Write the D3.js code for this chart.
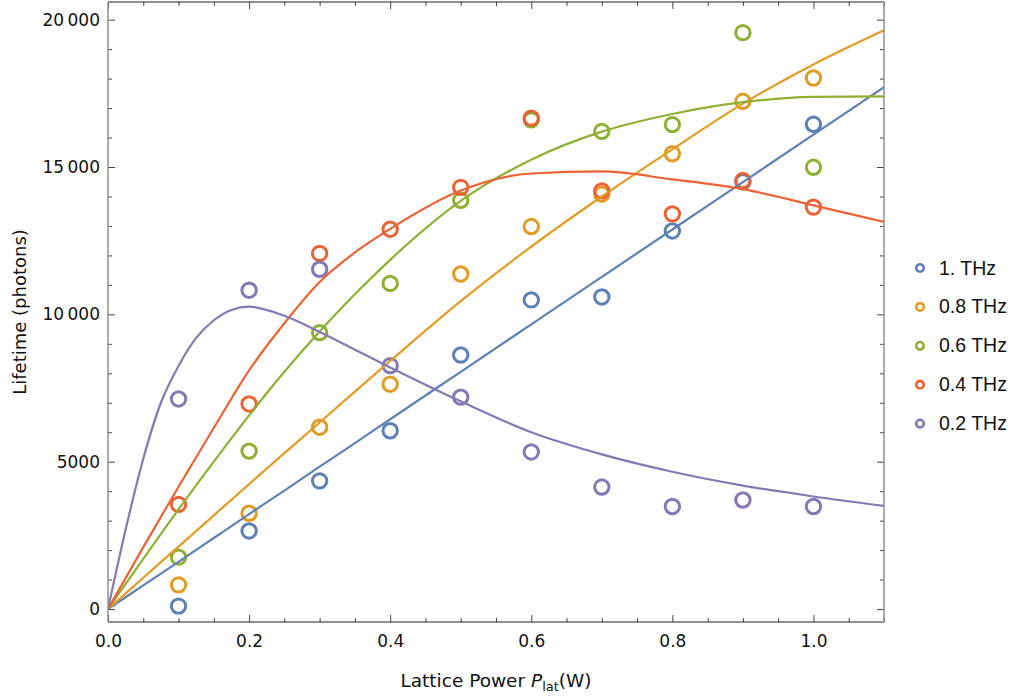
<!DOCTYPE html>
<html>
<head>
<meta charset="utf-8">
<script src="https://cdn.jsdelivr.net/npm/d3@7"></script>
<style>
  body { margin: 0; background: #fff; }
  text { font-family: "DejaVu Sans", sans-serif; fill: #111; }
  .legend text { font-family: "Liberation Sans", Arial, sans-serif; }
</style>
</head>
<body>
<div id="chart"></div>
<script>
// measured points (lattice power in W)
const power = [0.1, 0.2, 0.3, 0.4, 0.5, 0.6, 0.7, 0.8, 0.9, 1.0];
const life1THz  = [100, 2650, 4350, 6050, 8620, 10490, 10590, 12830, 14500, 16450];
const life08THz = [820, 3250, 6170, 7630, 11370, 12980, 14080, 15450, 17230, 18020];
const life06THz = [1760, 5360, 9380, 11050, 13870, 16600, 16210, 16440, 19560, 14990];
const life04THz = [3550, 6960, 12070, 12890, 14310, 16660, 14190, 13410, 14540, 13640];
const life02THz = [7130, 10820, 11530, 8260, 7190, 5330, 4140, 3480, 3700, 3480];

// fitted curves
const fitPower = [0, 0.05, 0.1, 0.15, 0.2, 0.25, 0.3, 0.35, 0.4, 0.5, 0.6, 0.7, 0.8, 0.9, 1.0, 1.1];
const fit1THz  = [0, 800, 1600, 2410, 3220, 4020, 4830, 5630, 6440, 8050, 9660, 11270, 12880, 14490, 16100, 17710];
const fit08THz = [0, 1060, 2120, 3180, 4240, 5290, 6330, 7380, 8420, 10450, 12300, 14000, 15600, 17150, 18480, 19640];
const fit06THz = [0, 1700, 3380, 5000, 6570, 8050, 9420, 10680, 11850, 13850, 15250, 16200, 16800, 17200, 17380, 17400];
const fit04THz = [0, 2100, 4150, 6150, 8100, 9700, 11100, 12100, 12900, 14200, 14780, 14850, 14580, 14250, 13700, 13140];
const fitPower02 = [0, 0.025, 0.05, 0.075, 0.1, 0.125, 0.15, 0.175, 0.2, 0.25, 0.3, 0.35, 0.4, 0.5, 0.6, 0.7, 0.8, 0.9, 1.0, 1.1];
const fit02THz = [0, 2700, 5100, 7000, 8250, 9200, 9800, 10150, 10260, 9950, 9400, 8800, 8200, 7050, 6000, 5250, 4660, 4190, 3820, 3500];

const seriesNames = ["1. THz", "0.8 THz", "0.6 THz", "0.4 THz", "0.2 THz"];
const colors = ["#5E81B5", "#E19C24", "#8FB032", "#EB6235", "#8778B3"];

const xTicks = [0, 0.2, 0.4, 0.6, 0.8, 1.0];
const xTickLabels = ["0.0", "0.2", "0.4", "0.6", "0.8", "1.0"];
const yTicks = [0, 5000, 10000, 15000, 20000];
const yTickLabels = ["0", "5000", "10\u2009000", "15\u2009000", "20\u2009000"];

const series = [
  { name: seriesNames[0], color: colors[0], pts: life1THz,  fx: fitPower,   fy: fit1THz },
  { name: seriesNames[1], color: colors[1], pts: life08THz, fx: fitPower,   fy: fit08THz },
  { name: seriesNames[2], color: colors[2], pts: life06THz, fx: fitPower,   fy: fit06THz },
  { name: seriesNames[3], color: colors[3], pts: life04THz, fx: fitPower,   fy: fit04THz },
  { name: seriesNames[4], color: colors[4], pts: life02THz, fx: fitPower02, fy: fit02THz }
];

var margin = { top: 2, right: 131, bottom: 78, left: 108 },
  totalW = 1015, totalH = 700,
  width = totalW - margin.left - margin.right,
  height = totalH - margin.top - margin.bottom;

var svg = d3.select("#chart")
  .append("svg")
  .attr("width", totalW)
  .attr("height", totalH)
  .append("g")
  .attr("transform", "translate(" + margin.left + "," + margin.top + ")");

var x = d3.scaleLinear().domain([0, 1.1]).range([0, width]);
var y = d3.scaleLinear().domain([-440, 20600]).range([height, 0]);

svg.append("clipPath").attr("id", "clip")
  .append("rect").attr("width", width).attr("height", height);

// points first, fit lines on top
series.forEach(s => {
  svg.append("g")
    .selectAll("circle")
    .data(power.map((p, i) => [p, s.pts[i]]))
    .enter()
    .append("circle")
    .attr("cx", d => x(d[0]))
    .attr("cy", d => y(d[1]))
    .attr("r", 7.2)
    .attr("fill", "none")
    .attr("stroke", s.color)
    .attr("stroke-width", 3);
});

var line = d3.line()
  .x(d => x(d[0]))
  .y(d => y(d[1]))
  .curve(d3.curveMonotoneX);

series.forEach(s => {
  svg.append("path")
    .datum(s.fx.map((p, i) => [p, s.fy[i]]))
    .attr("clip-path", "url(#clip)")
    .attr("fill", "none")
    .attr("stroke", s.color)
    .attr("stroke-width", 2.2)
    .attr("d", line);
});

// ticks (inward, on all four sides)
var xMinor = d3.range(0, 1.1001, 0.05).filter(v => Math.abs(Math.round(v * 5) - v * 5) > 1e-6);
var yMinor = d3.range(0, 20001, 1000).filter(v => v % 5000 !== 0);

function styleAxis(g) {
  g.select(".domain").remove();
  g.selectAll("line").attr("stroke", "#444");
  g.selectAll("text").attr("font-size", 17).attr("font-family", "DejaVu Sans, sans-serif").attr("fill", "#111");
}

svg.append("g").attr("transform", `translate(0,${height})`)
  .call(d3.axisBottom(x).tickValues(xTicks).tickSize(-7).tickPadding(13).tickFormat((d, i) => xTickLabels[i]))
  .call(styleAxis);
svg.append("g").attr("transform", `translate(0,${height})`)
  .call(d3.axisBottom(x).tickValues(xMinor).tickSize(-4).tickFormat(""))
  .call(styleAxis);
svg.append("g")
  .call(d3.axisTop(x).tickValues(xTicks).tickSize(-7).tickFormat(""))
  .call(styleAxis);
svg.append("g")
  .call(d3.axisTop(x).tickValues(xMinor).tickSize(-4).tickFormat(""))
  .call(styleAxis);

svg.append("g")
  .call(d3.axisLeft(y).tickValues(yTicks).tickSize(-7).tickPadding(8).tickFormat((d, i) => yTickLabels[i]))
  .call(styleAxis);
svg.append("g")
  .call(d3.axisLeft(y).tickValues(yMinor).tickSize(-4).tickFormat(""))
  .call(styleAxis);
svg.append("g").attr("transform", `translate(${width},0)`)
  .call(d3.axisRight(y).tickValues(yTicks).tickSize(-7).tickFormat(""))
  .call(styleAxis);
svg.append("g").attr("transform", `translate(${width},0)`)
  .call(d3.axisRight(y).tickValues(yMinor).tickSize(-4).tickFormat(""))
  .call(styleAxis);

// frame
svg.append("line").attr("x1", 0).attr("x2", width).attr("y1", 0).attr("y2", 0).attr("stroke", "#222").attr("stroke-width", 1.2);
svg.append("line").attr("x1", 0).attr("x2", width).attr("y1", height).attr("y2", height).attr("stroke", "#222").attr("stroke-width", 1.2);
svg.append("line").attr("x1", 0).attr("x2", 0).attr("y1", 0).attr("y2", height).attr("stroke", "#888").attr("stroke-width", 1.4);
svg.append("line").attr("x1", width).attr("x2", width).attr("y1", 0).attr("y2", height).attr("stroke", "#888").attr("stroke-width", 1.4);

// axis labels
var xl = svg.append("text") // x axis label
  .attr("x", width / 2)
  .attr("y", height + 65)
  .attr("text-anchor", "middle")
  .attr("font-size", 18.5);
xl.append("tspan").text("Lattice Power ");
xl.append("tspan").attr("font-style", "italic").text("P");
xl.append("tspan").attr("font-size", 13).attr("dy", 4).text("lat");
xl.append("tspan").attr("dy", -4).text("(W)");

svg.append("text") // y axis label
  .attr("transform", "rotate(-90)")
  .attr("x", -height / 2)
  .attr("y", -82)
  .attr("text-anchor", "middle")
  .attr("font-size", 18)
  .text("Lifetime (photons)");

// legend
var legend = d3.select("svg").append("g")
  .attr("class", "legend")
  .attr("transform", "translate(920,268)");

var rows = legend.selectAll("g")
  .data(series)
  .enter()
  .append("g")
  .attr("transform", (d, i) => `translate(0,${i * 38.9})`);

rows.append("circle")
  .attr("r", 3.8)
  .attr("fill", "none")
  .attr("stroke", d => d.color)
  .attr("stroke-width", 2.6);

rows.append("text")
  .attr("x", 19)
  .attr("y", 6.5)
  .attr("font-size", 19.5)
  .text(d => d.name);
</script>
</body>
</html>
